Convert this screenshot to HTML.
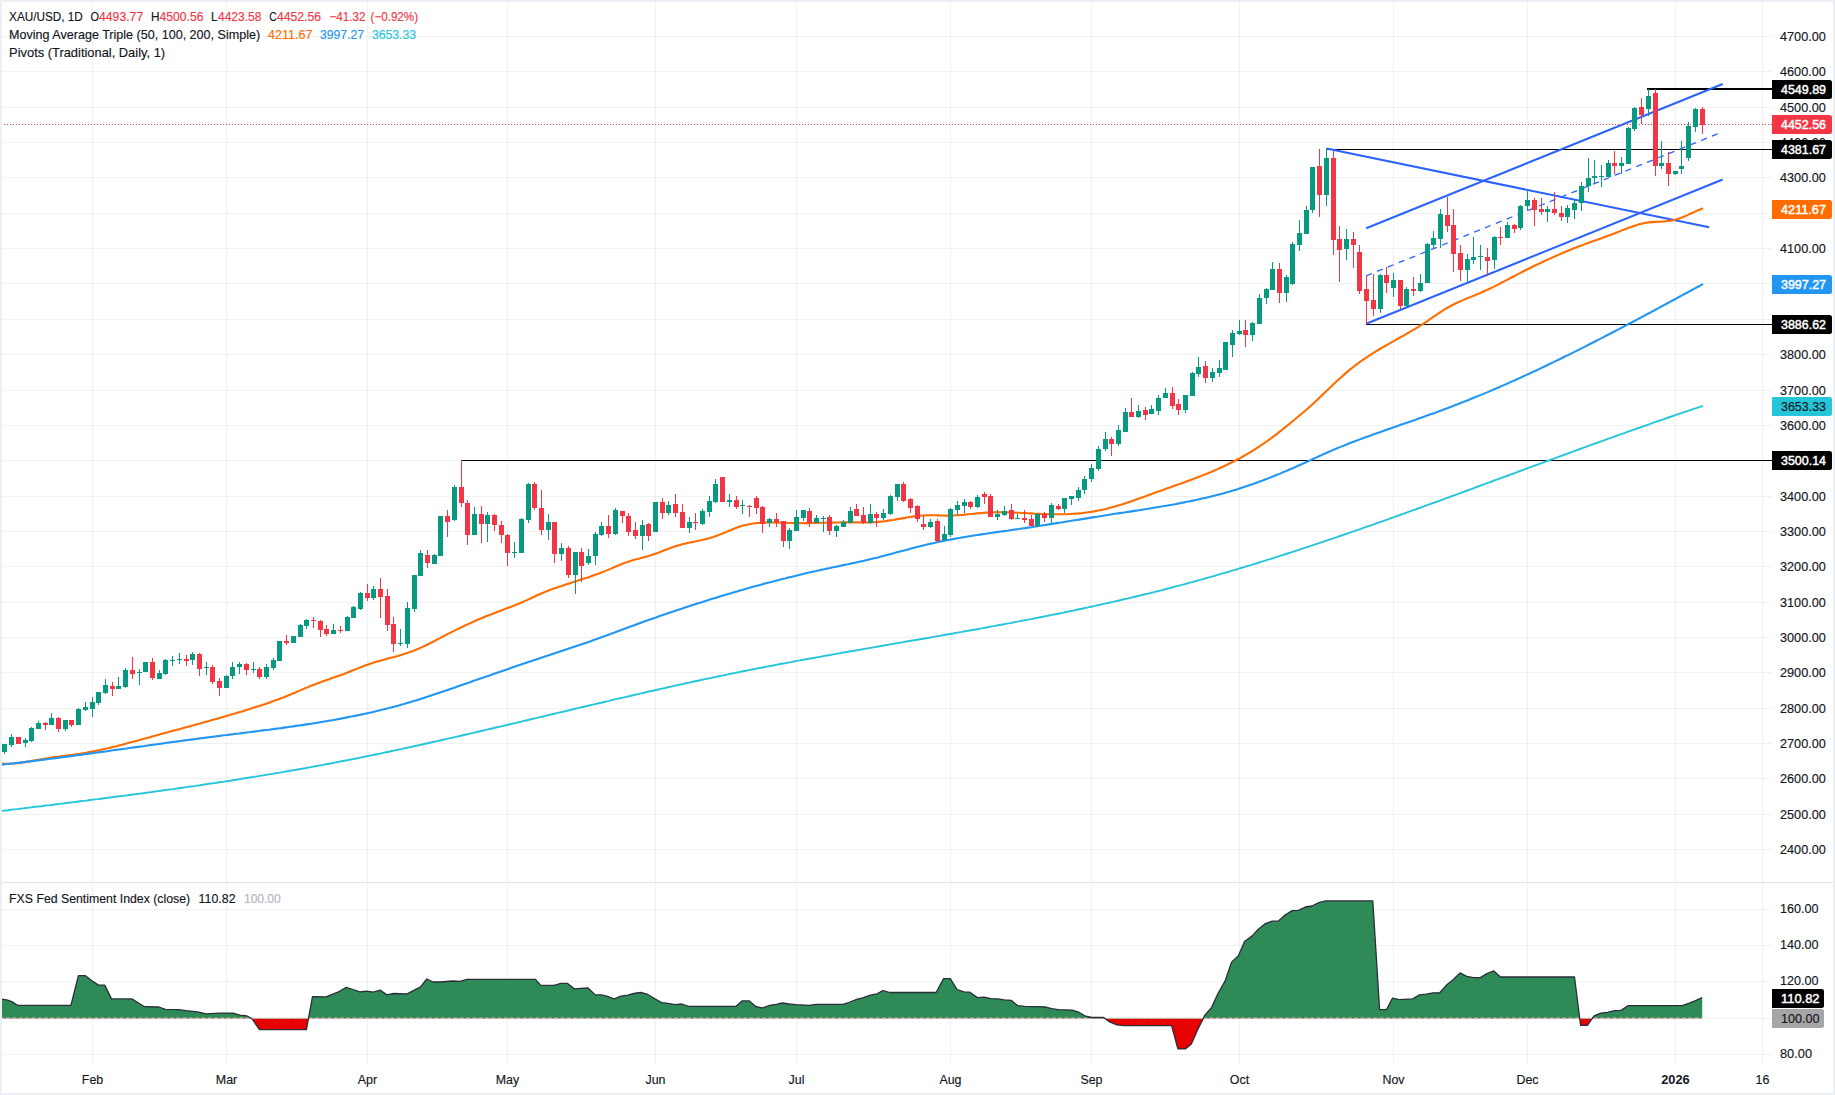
<!DOCTYPE html>
<html><head><meta charset="utf-8"><title>XAU/USD 1D</title>
<style>html,body{margin:0;padding:0;background:#fff}svg{display:block}</style></head>
<body>
<svg width="1835" height="1095" viewBox="0 0 1835 1095" font-family="&quot;Liberation Sans&quot;, sans-serif" font-size="12.4">
<rect x="0" y="0" width="1835" height="1095" fill="#ffffff"/>
<path d="M92.5 2V1064.5 M226.5 2V1064.5 M367.5 2V1064.5 M507.5 2V1064.5 M655.5 2V1064.5 M796.5 2V1064.5 M950.5 2V1064.5 M1091.5 2V1064.5 M1239.5 2V1064.5 M1393.5 2V1064.5 M1527.5 2V1064.5 M1675.5 2V1064.5 M1762.5 2V1064.5" stroke="#2b302e" stroke-opacity="0.065" stroke-width="1" fill="none" shape-rendering="crispEdges"/>
<path d="M2 849.5H1772 M2 814.5H1772 M2 778.5H1772 M2 743.5H1772 M2 708.5H1772 M2 672.5H1772 M2 637.5H1772 M2 602.5H1772 M2 566.5H1772 M2 531.5H1772 M2 496.5H1772 M2 460.5H1772 M2 425.5H1772 M2 390.5H1772 M2 354.5H1772 M2 319.5H1772 M2 283.5H1772 M2 248.5H1772 M2 213.5H1772 M2 177.5H1772 M2 142.5H1772 M2 107.5H1772 M2 71.5H1772 M2 36.5H1772 M2 1054.5H1772 M2 1018.5H1772 M2 981.5H1772 M2 945.5H1772 M2 909.5H1772" stroke="#2b302e" stroke-opacity="0.065" stroke-width="1" fill="none" shape-rendering="crispEdges"/>
<path d="M2 882.5H1833" stroke="#e0e3eb" stroke-width="1" shape-rendering="crispEdges"/>
<path d="M461.7 460.5H1772" stroke="#000" stroke-width="1" shape-rendering="crispEdges"/>
<path d="M1366.2 324.5H1772" stroke="#000" stroke-width="1" shape-rendering="crispEdges"/>
<path d="M1326.5 149.5H1772" stroke="#000" stroke-width="1" shape-rendering="crispEdges"/>
<path d="M1647.4 89.0H1772" stroke="#000" stroke-width="2" shape-rendering="crispEdges"/>
<path d="M1326.5 148.6L1709.2 227.3" stroke="#2962ff" stroke-width="2" fill="none"/>
<path d="M1366.2 228.2L1722.7 84.0" stroke="#2962ff" stroke-width="2" fill="none"/>
<path d="M1366.2 323.8L1722.7 179.5" stroke="#2962ff" stroke-width="2" fill="none"/>
<path d="M1366.2 275.8L1722.7 131.8" stroke="#2962ff" stroke-width="1.3" stroke-dasharray="6.2 5.45" fill="none"/>
<path d="M2.0 763.5 L5.0 763.7 L8.0 763.8 L11.0 763.7 L14.0 763.5 L17.0 763.2 L20.0 762.9 L23.0 762.4 L26.0 761.9 L29.0 761.4 L32.0 760.8 L35.0 760.3 L38.0 759.7 L41.0 759.2 L44.0 758.7 L47.0 758.2 L50.0 757.8 L53.0 757.4 L56.0 757.0 L59.0 756.6 L62.0 756.2 L65.0 755.8 L68.0 755.4 L71.0 755.0 L74.0 754.6 L77.0 754.1 L80.0 753.7 L83.0 753.2 L86.0 752.7 L89.0 752.1 L92.0 751.6 L95.0 751.0 L98.0 750.4 L101.0 749.7 L104.0 749.1 L107.0 748.4 L110.0 747.7 L113.0 746.9 L116.0 746.2 L119.0 745.4 L122.0 744.7 L125.0 743.9 L128.0 743.1 L131.0 742.3 L134.0 741.5 L137.0 740.7 L140.0 739.8 L143.0 739.0 L146.0 738.2 L149.0 737.4 L152.0 736.5 L155.0 735.7 L158.0 734.9 L161.0 734.1 L164.0 733.3 L167.0 732.5 L170.0 731.6 L173.0 730.8 L176.0 730.0 L179.0 729.2 L182.0 728.4 L185.0 727.6 L188.0 726.8 L191.0 725.9 L194.0 725.1 L197.0 724.3 L200.0 723.5 L203.0 722.6 L206.0 721.8 L209.0 721.0 L212.0 720.1 L215.0 719.3 L218.0 718.4 L221.0 717.6 L224.0 716.7 L227.0 715.8 L230.0 715.0 L233.0 714.1 L236.0 713.2 L239.0 712.3 L242.0 711.4 L245.0 710.4 L248.0 709.5 L251.0 708.6 L254.0 707.6 L257.0 706.6 L260.0 705.7 L263.0 704.7 L266.0 703.7 L269.0 702.7 L272.0 701.6 L275.0 700.6 L278.0 699.5 L281.0 698.3 L284.0 697.2 L287.0 696.0 L290.0 694.8 L293.0 693.5 L296.0 692.2 L299.0 690.9 L302.0 689.6 L305.0 688.3 L308.0 687.1 L311.0 685.8 L314.0 684.7 L317.0 683.5 L320.0 682.4 L323.0 681.3 L326.0 680.2 L329.0 679.2 L332.0 678.1 L335.0 677.1 L338.0 676.0 L341.0 675.0 L344.0 673.9 L347.0 672.7 L350.0 671.5 L353.0 670.3 L356.0 669.1 L359.0 667.9 L362.0 666.7 L365.0 665.5 L368.0 664.5 L371.0 663.4 L374.0 662.5 L377.0 661.6 L380.0 660.7 L383.0 659.9 L386.0 659.1 L389.0 658.3 L392.0 657.5 L395.0 656.7 L398.0 655.9 L401.0 655.0 L404.0 654.1 L407.0 653.1 L410.0 652.1 L413.0 651.0 L416.0 649.8 L419.0 648.5 L422.0 647.1 L425.0 645.7 L428.0 644.2 L431.0 642.7 L434.0 641.2 L437.0 639.6 L440.0 638.1 L443.0 636.5 L446.0 634.9 L449.0 633.4 L452.0 631.9 L455.0 630.4 L458.0 628.9 L461.0 627.5 L464.0 626.0 L467.0 624.6 L470.0 623.2 L473.0 621.9 L476.0 620.5 L479.0 619.2 L482.0 618.0 L485.0 616.7 L488.0 615.5 L491.0 614.4 L494.0 613.2 L497.0 612.0 L500.0 610.9 L503.0 609.8 L506.0 608.6 L509.0 607.5 L512.0 606.4 L515.0 605.2 L518.0 604.0 L521.0 602.7 L524.0 601.4 L527.0 600.1 L530.0 598.7 L533.0 597.2 L536.0 595.8 L539.0 594.5 L542.0 593.2 L545.0 591.9 L548.0 590.7 L551.0 589.6 L554.0 588.5 L557.0 587.4 L560.0 586.4 L563.0 585.4 L566.0 584.4 L569.0 583.4 L572.0 582.4 L575.0 581.5 L578.0 580.6 L581.0 579.6 L584.0 578.6 L587.0 577.7 L590.0 576.7 L593.0 575.6 L596.0 574.6 L599.0 573.5 L602.0 572.3 L605.0 571.1 L608.0 569.9 L611.0 568.6 L614.0 567.3 L617.0 566.0 L620.0 564.7 L623.0 563.5 L626.0 562.4 L629.0 561.4 L632.0 560.5 L635.0 559.6 L638.0 558.9 L641.0 558.1 L644.0 557.3 L647.0 556.5 L650.0 555.6 L653.0 554.6 L656.0 553.5 L659.0 552.4 L662.0 551.2 L665.0 550.0 L668.0 548.9 L671.0 547.8 L674.0 546.7 L677.0 545.8 L680.0 544.9 L683.0 544.1 L686.0 543.4 L689.0 542.8 L692.0 542.1 L695.0 541.5 L698.0 540.8 L701.0 540.2 L704.0 539.5 L707.0 538.7 L710.0 537.9 L713.0 537.0 L716.0 536.0 L719.0 534.9 L722.0 533.7 L725.0 532.5 L728.0 531.2 L731.0 530.0 L734.0 528.7 L737.0 527.6 L740.0 526.6 L743.0 525.6 L746.0 524.9 L749.0 524.2 L752.0 523.7 L755.0 523.3 L758.0 523.0 L761.0 522.8 L764.0 522.6 L767.0 522.5 L770.0 522.5 L773.0 522.5 L776.0 522.6 L779.0 522.7 L782.0 522.8 L785.0 522.9 L788.0 523.0 L791.0 523.0 L794.0 523.1 L797.0 523.1 L800.0 523.1 L803.0 523.1 L806.0 523.1 L809.0 523.1 L812.0 523.0 L815.0 523.0 L818.0 522.9 L821.0 522.8 L824.0 522.8 L827.0 522.7 L830.0 522.6 L833.0 522.6 L836.0 522.5 L839.0 522.5 L842.0 522.4 L845.0 522.4 L848.0 522.4 L851.0 522.4 L854.0 522.4 L857.0 522.4 L860.0 522.5 L863.0 522.5 L866.0 522.5 L869.0 522.4 L872.0 522.3 L875.0 522.1 L878.0 521.9 L881.0 521.6 L884.0 521.3 L887.0 520.9 L890.0 520.4 L893.0 520.0 L896.0 519.4 L899.0 518.9 L902.0 518.4 L905.0 517.9 L908.0 517.3 L911.0 516.9 L914.0 516.4 L917.0 516.1 L920.0 515.7 L923.0 515.5 L926.0 515.4 L929.0 515.3 L932.0 515.3 L935.0 515.3 L938.0 515.4 L941.0 515.5 L944.0 515.6 L947.0 515.6 L950.0 515.6 L953.0 515.5 L956.0 515.3 L959.0 515.1 L962.0 514.9 L965.0 514.6 L968.0 514.3 L971.0 514.0 L974.0 513.7 L977.0 513.4 L980.0 513.1 L983.0 512.9 L986.0 512.6 L989.0 512.5 L992.0 512.4 L995.0 512.3 L998.0 512.3 L1001.0 512.3 L1004.0 512.3 L1007.0 512.4 L1010.0 512.4 L1013.0 512.5 L1016.0 512.7 L1019.0 512.8 L1022.0 513.0 L1025.0 513.1 L1028.0 513.3 L1031.0 513.4 L1034.0 513.6 L1037.0 513.7 L1040.0 513.9 L1043.0 514.0 L1046.0 514.1 L1049.0 514.2 L1052.0 514.3 L1055.0 514.3 L1058.0 514.3 L1061.0 514.3 L1064.0 514.3 L1067.0 514.2 L1070.0 514.0 L1073.0 513.8 L1076.0 513.6 L1079.0 513.4 L1082.0 513.1 L1085.0 512.7 L1088.0 512.3 L1091.0 511.9 L1094.0 511.4 L1097.0 510.8 L1100.0 510.2 L1103.0 509.6 L1106.0 508.9 L1109.0 508.1 L1112.0 507.3 L1115.0 506.5 L1118.0 505.6 L1121.0 504.7 L1124.0 503.7 L1127.0 502.7 L1130.0 501.7 L1133.0 500.7 L1136.0 499.6 L1139.0 498.6 L1142.0 497.5 L1145.0 496.4 L1148.0 495.3 L1151.0 494.2 L1154.0 493.1 L1157.0 492.0 L1160.0 491.0 L1163.0 489.9 L1166.0 488.8 L1169.0 487.8 L1172.0 486.7 L1175.0 485.6 L1178.0 484.6 L1181.0 483.5 L1184.0 482.4 L1187.0 481.3 L1190.0 480.2 L1193.0 479.1 L1196.0 477.9 L1199.0 476.8 L1202.0 475.6 L1205.0 474.4 L1208.0 473.2 L1211.0 472.0 L1214.0 470.7 L1217.0 469.4 L1220.0 468.0 L1223.0 466.7 L1226.0 465.2 L1229.0 463.8 L1232.0 462.3 L1235.0 460.8 L1238.0 459.2 L1241.0 457.6 L1244.0 455.9 L1247.0 454.2 L1250.0 452.4 L1253.0 450.6 L1256.0 448.7 L1259.0 446.7 L1262.0 444.7 L1265.0 442.7 L1268.0 440.5 L1271.0 438.3 L1274.0 436.1 L1277.0 433.8 L1280.0 431.4 L1283.0 429.0 L1286.0 426.6 L1289.0 424.2 L1292.0 421.7 L1295.0 419.3 L1298.0 416.8 L1301.0 414.3 L1304.0 411.8 L1307.0 409.2 L1310.0 406.5 L1313.0 403.8 L1316.0 401.0 L1319.0 398.2 L1322.0 395.3 L1325.0 392.5 L1328.0 389.6 L1331.0 386.7 L1334.0 383.8 L1337.0 381.0 L1340.0 378.2 L1343.0 375.6 L1346.0 372.9 L1349.0 370.4 L1352.0 368.0 L1355.0 365.7 L1358.0 363.4 L1361.0 361.2 L1364.0 359.1 L1367.0 357.1 L1370.0 355.1 L1373.0 353.2 L1376.0 351.3 L1379.0 349.5 L1382.0 347.7 L1385.0 346.0 L1388.0 344.3 L1391.0 342.6 L1394.0 340.9 L1397.0 339.2 L1400.0 337.5 L1403.0 335.9 L1406.0 334.2 L1409.0 332.4 L1412.0 330.7 L1415.0 328.9 L1418.0 327.1 L1421.0 325.2 L1424.0 323.3 L1427.0 321.3 L1430.0 319.2 L1433.0 317.2 L1436.0 315.1 L1439.0 313.0 L1442.0 311.1 L1445.0 309.2 L1448.0 307.5 L1451.0 305.8 L1454.0 304.3 L1457.0 302.8 L1460.0 301.4 L1463.0 300.1 L1466.0 298.8 L1469.0 297.6 L1472.0 296.4 L1475.0 295.2 L1478.0 293.9 L1481.0 292.7 L1484.0 291.3 L1487.0 290.0 L1490.0 288.5 L1493.0 287.1 L1496.0 285.6 L1499.0 284.1 L1502.0 282.5 L1505.0 280.9 L1508.0 279.4 L1511.0 277.8 L1514.0 276.2 L1517.0 274.6 L1520.0 273.1 L1523.0 271.5 L1526.0 270.0 L1529.0 268.5 L1532.0 267.0 L1535.0 265.5 L1538.0 264.1 L1541.0 262.7 L1544.0 261.3 L1547.0 259.9 L1550.0 258.6 L1553.0 257.2 L1556.0 255.9 L1559.0 254.6 L1562.0 253.3 L1565.0 252.0 L1568.0 250.8 L1571.0 249.5 L1574.0 248.3 L1577.0 247.1 L1580.0 246.0 L1583.0 244.9 L1586.0 243.7 L1589.0 242.7 L1592.0 241.6 L1595.0 240.5 L1598.0 239.5 L1601.0 238.4 L1604.0 237.3 L1607.0 236.2 L1610.0 235.1 L1613.0 234.0 L1616.0 232.8 L1619.0 231.6 L1622.0 230.4 L1625.0 229.2 L1628.0 228.1 L1631.0 227.0 L1634.0 225.9 L1637.0 225.0 L1640.0 224.1 L1643.0 223.4 L1646.0 222.8 L1649.0 222.4 L1652.0 222.1 L1655.0 221.9 L1658.0 221.7 L1661.0 221.6 L1664.0 221.4 L1667.0 221.1 L1670.0 220.7 L1673.0 220.1 L1676.0 219.4 L1679.0 218.5 L1682.0 217.4 L1685.0 216.2 L1688.0 214.9 L1691.0 213.5 L1694.0 212.1 L1697.0 210.7 L1700.0 209.5 L1702.3 208.6" stroke="#ff6d00" stroke-width="2.1" fill="none" stroke-linejoin="round" stroke-linecap="round"/>
<path d="M2.0 764.7 L5.0 764.3 L8.0 764.0 L11.0 763.6 L14.0 763.3 L17.0 762.9 L20.0 762.6 L23.0 762.2 L26.0 761.9 L29.0 761.5 L32.0 761.1 L35.0 760.7 L38.0 760.4 L41.0 760.0 L44.0 759.6 L47.0 759.2 L50.0 758.8 L53.0 758.5 L56.0 758.1 L59.0 757.7 L62.0 757.3 L65.0 756.9 L68.0 756.5 L71.0 756.1 L74.0 755.7 L77.0 755.3 L80.0 754.9 L83.0 754.5 L86.0 754.1 L89.0 753.6 L92.0 753.2 L95.0 752.8 L98.0 752.4 L101.0 752.0 L104.0 751.6 L107.0 751.2 L110.0 750.7 L113.0 750.3 L116.0 749.9 L119.0 749.5 L122.0 749.1 L125.0 748.7 L128.0 748.2 L131.0 747.8 L134.0 747.4 L137.0 747.0 L140.0 746.6 L143.0 746.2 L146.0 745.7 L149.0 745.3 L152.0 744.9 L155.0 744.5 L158.0 744.1 L161.0 743.7 L164.0 743.3 L167.0 742.8 L170.0 742.4 L173.0 742.0 L176.0 741.6 L179.0 741.2 L182.0 740.8 L185.0 740.4 L188.0 740.0 L191.0 739.6 L194.0 739.2 L197.0 738.8 L200.0 738.4 L203.0 738.0 L206.0 737.6 L209.0 737.2 L212.0 736.9 L215.0 736.5 L218.0 736.1 L221.0 735.7 L224.0 735.3 L227.0 735.0 L230.0 734.6 L233.0 734.2 L236.0 733.8 L239.0 733.5 L242.0 733.1 L245.0 732.7 L248.0 732.3 L251.0 732.0 L254.0 731.6 L257.0 731.2 L260.0 730.8 L263.0 730.4 L266.0 730.0 L269.0 729.7 L272.0 729.3 L275.0 728.9 L278.0 728.5 L281.0 728.1 L284.0 727.6 L287.0 727.2 L290.0 726.8 L293.0 726.4 L296.0 725.9 L299.0 725.5 L302.0 725.1 L305.0 724.6 L308.0 724.1 L311.0 723.7 L314.0 723.2 L317.0 722.7 L320.0 722.2 L323.0 721.7 L326.0 721.2 L329.0 720.7 L332.0 720.2 L335.0 719.7 L338.0 719.1 L341.0 718.6 L344.0 718.0 L347.0 717.4 L350.0 716.8 L353.0 716.2 L356.0 715.6 L359.0 715.0 L362.0 714.4 L365.0 713.7 L368.0 713.1 L371.0 712.4 L374.0 711.7 L377.0 711.0 L380.0 710.3 L383.0 709.6 L386.0 708.8 L389.0 708.1 L392.0 707.3 L395.0 706.5 L398.0 705.7 L401.0 704.8 L404.0 704.0 L407.0 703.1 L410.0 702.2 L413.0 701.3 L416.0 700.4 L419.0 699.5 L422.0 698.5 L425.0 697.5 L428.0 696.6 L431.0 695.6 L434.0 694.6 L437.0 693.6 L440.0 692.5 L443.0 691.5 L446.0 690.5 L449.0 689.4 L452.0 688.4 L455.0 687.4 L458.0 686.3 L461.0 685.3 L464.0 684.3 L467.0 683.2 L470.0 682.2 L473.0 681.1 L476.0 680.1 L479.0 679.0 L482.0 678.0 L485.0 677.0 L488.0 675.9 L491.0 674.9 L494.0 673.8 L497.0 672.8 L500.0 671.8 L503.0 670.7 L506.0 669.7 L509.0 668.7 L512.0 667.6 L515.0 666.6 L518.0 665.6 L521.0 664.6 L524.0 663.5 L527.0 662.5 L530.0 661.5 L533.0 660.5 L536.0 659.5 L539.0 658.4 L542.0 657.4 L545.0 656.4 L548.0 655.4 L551.0 654.4 L554.0 653.4 L557.0 652.4 L560.0 651.4 L563.0 650.4 L566.0 649.5 L569.0 648.5 L572.0 647.5 L575.0 646.5 L578.0 645.5 L581.0 644.5 L584.0 643.4 L587.0 642.4 L590.0 641.4 L593.0 640.3 L596.0 639.3 L599.0 638.2 L602.0 637.1 L605.0 636.0 L608.0 634.9 L611.0 633.8 L614.0 632.7 L617.0 631.5 L620.0 630.4 L623.0 629.3 L626.0 628.2 L629.0 627.1 L632.0 626.0 L635.0 624.9 L638.0 623.8 L641.0 622.7 L644.0 621.6 L647.0 620.6 L650.0 619.5 L653.0 618.4 L656.0 617.4 L659.0 616.3 L662.0 615.3 L665.0 614.3 L668.0 613.2 L671.0 612.2 L674.0 611.2 L677.0 610.2 L680.0 609.2 L683.0 608.2 L686.0 607.2 L689.0 606.2 L692.0 605.2 L695.0 604.3 L698.0 603.3 L701.0 602.4 L704.0 601.4 L707.0 600.5 L710.0 599.5 L713.0 598.6 L716.0 597.7 L719.0 596.7 L722.0 595.8 L725.0 594.9 L728.0 594.0 L731.0 593.2 L734.0 592.3 L737.0 591.4 L740.0 590.5 L743.0 589.7 L746.0 588.8 L749.0 588.0 L752.0 587.1 L755.0 586.3 L758.0 585.5 L761.0 584.7 L764.0 583.8 L767.0 583.0 L770.0 582.3 L773.0 581.5 L776.0 580.7 L779.0 579.9 L782.0 579.1 L785.0 578.4 L788.0 577.6 L791.0 576.9 L794.0 576.2 L797.0 575.4 L800.0 574.7 L803.0 574.0 L806.0 573.3 L809.0 572.6 L812.0 571.9 L815.0 571.3 L818.0 570.6 L821.0 569.9 L824.0 569.3 L827.0 568.6 L830.0 568.0 L833.0 567.3 L836.0 566.7 L839.0 566.1 L842.0 565.4 L845.0 564.8 L848.0 564.2 L851.0 563.5 L854.0 562.9 L857.0 562.2 L860.0 561.6 L863.0 560.9 L866.0 560.2 L869.0 559.5 L872.0 558.8 L875.0 558.1 L878.0 557.4 L881.0 556.6 L884.0 555.8 L887.0 555.0 L890.0 554.2 L893.0 553.4 L896.0 552.6 L899.0 551.8 L902.0 551.0 L905.0 550.2 L908.0 549.4 L911.0 548.6 L914.0 547.8 L917.0 547.0 L920.0 546.2 L923.0 545.5 L926.0 544.8 L929.0 544.0 L932.0 543.4 L935.0 542.7 L938.0 542.0 L941.0 541.4 L944.0 540.8 L947.0 540.2 L950.0 539.6 L953.0 539.1 L956.0 538.5 L959.0 538.0 L962.0 537.5 L965.0 537.0 L968.0 536.5 L971.0 536.0 L974.0 535.5 L977.0 535.0 L980.0 534.6 L983.0 534.1 L986.0 533.7 L989.0 533.2 L992.0 532.8 L995.0 532.4 L998.0 531.9 L1001.0 531.5 L1004.0 531.1 L1007.0 530.7 L1010.0 530.2 L1013.0 529.8 L1016.0 529.4 L1019.0 529.0 L1022.0 528.5 L1025.0 528.1 L1028.0 527.6 L1031.0 527.2 L1034.0 526.7 L1037.0 526.3 L1040.0 525.8 L1043.0 525.3 L1046.0 524.9 L1049.0 524.4 L1052.0 523.9 L1055.0 523.4 L1058.0 522.9 L1061.0 522.5 L1064.0 522.0 L1067.0 521.5 L1070.0 521.0 L1073.0 520.5 L1076.0 520.0 L1079.0 519.6 L1082.0 519.1 L1085.0 518.6 L1088.0 518.1 L1091.0 517.6 L1094.0 517.1 L1097.0 516.7 L1100.0 516.2 L1103.0 515.7 L1106.0 515.2 L1109.0 514.8 L1112.0 514.3 L1115.0 513.8 L1118.0 513.4 L1121.0 512.9 L1124.0 512.5 L1127.0 512.0 L1130.0 511.6 L1133.0 511.1 L1136.0 510.6 L1139.0 510.2 L1142.0 509.7 L1145.0 509.2 L1148.0 508.8 L1151.0 508.3 L1154.0 507.8 L1157.0 507.3 L1160.0 506.8 L1163.0 506.3 L1166.0 505.8 L1169.0 505.2 L1172.0 504.7 L1175.0 504.2 L1178.0 503.6 L1181.0 503.0 L1184.0 502.4 L1187.0 501.8 L1190.0 501.2 L1193.0 500.6 L1196.0 500.0 L1199.0 499.3 L1202.0 498.6 L1205.0 497.9 L1208.0 497.2 L1211.0 496.5 L1214.0 495.8 L1217.0 495.0 L1220.0 494.2 L1223.0 493.4 L1226.0 492.5 L1229.0 491.7 L1232.0 490.8 L1235.0 489.9 L1238.0 489.0 L1241.0 488.0 L1244.0 487.0 L1247.0 486.0 L1250.0 485.0 L1253.0 484.0 L1256.0 482.9 L1259.0 481.8 L1262.0 480.7 L1265.0 479.5 L1268.0 478.4 L1271.0 477.2 L1274.0 476.0 L1277.0 474.8 L1280.0 473.6 L1283.0 472.3 L1286.0 471.1 L1289.0 469.8 L1292.0 468.5 L1295.0 467.2 L1298.0 465.8 L1301.0 464.5 L1304.0 463.1 L1307.0 461.7 L1310.0 460.4 L1313.0 459.0 L1316.0 457.6 L1319.0 456.2 L1322.0 454.9 L1325.0 453.5 L1328.0 452.2 L1331.0 450.9 L1334.0 449.6 L1337.0 448.3 L1340.0 447.1 L1343.0 445.9 L1346.0 444.7 L1349.0 443.5 L1352.0 442.3 L1355.0 441.2 L1358.0 440.1 L1361.0 438.9 L1364.0 437.8 L1367.0 436.7 L1370.0 435.7 L1373.0 434.6 L1376.0 433.5 L1379.0 432.5 L1382.0 431.4 L1385.0 430.3 L1388.0 429.3 L1391.0 428.3 L1394.0 427.2 L1397.0 426.2 L1400.0 425.1 L1403.0 424.1 L1406.0 423.1 L1409.0 422.0 L1412.0 421.0 L1415.0 419.9 L1418.0 418.8 L1421.0 417.8 L1424.0 416.7 L1427.0 415.6 L1430.0 414.5 L1433.0 413.5 L1436.0 412.4 L1439.0 411.3 L1442.0 410.2 L1445.0 409.0 L1448.0 407.9 L1451.0 406.8 L1454.0 405.6 L1457.0 404.5 L1460.0 403.3 L1463.0 402.1 L1466.0 401.0 L1469.0 399.8 L1472.0 398.5 L1475.0 397.3 L1478.0 396.1 L1481.0 394.9 L1484.0 393.6 L1487.0 392.4 L1490.0 391.1 L1493.0 389.8 L1496.0 388.5 L1499.0 387.2 L1502.0 385.9 L1505.0 384.6 L1508.0 383.3 L1511.0 381.9 L1514.0 380.6 L1517.0 379.2 L1520.0 377.9 L1523.0 376.5 L1526.0 375.1 L1529.0 373.8 L1532.0 372.4 L1535.0 371.0 L1538.0 369.6 L1541.0 368.1 L1544.0 366.7 L1547.0 365.3 L1550.0 363.8 L1553.0 362.4 L1556.0 360.9 L1559.0 359.5 L1562.0 358.0 L1565.0 356.5 L1568.0 355.1 L1571.0 353.6 L1574.0 352.1 L1577.0 350.6 L1580.0 349.1 L1583.0 347.6 L1586.0 346.1 L1589.0 344.5 L1592.0 343.0 L1595.0 341.5 L1598.0 339.9 L1601.0 338.4 L1604.0 336.9 L1607.0 335.3 L1610.0 333.8 L1613.0 332.2 L1616.0 330.6 L1619.0 329.1 L1622.0 327.5 L1625.0 325.9 L1628.0 324.3 L1631.0 322.8 L1634.0 321.2 L1637.0 319.6 L1640.0 318.0 L1643.0 316.4 L1646.0 314.8 L1649.0 313.2 L1652.0 311.6 L1655.0 310.0 L1658.0 308.4 L1661.0 306.7 L1664.0 305.1 L1667.0 303.5 L1670.0 301.9 L1673.0 300.3 L1676.0 298.7 L1679.0 297.0 L1682.0 295.4 L1685.0 293.8 L1688.0 292.2 L1691.0 290.5 L1694.0 288.9 L1697.0 287.3 L1700.0 285.7 L1702.3 284.4" stroke="#2196f3" stroke-width="2.1" fill="none" stroke-linejoin="round" stroke-linecap="round"/>
<path d="M2.0 810.9 L5.0 810.5 L8.0 810.2 L11.0 809.8 L14.0 809.4 L17.0 809.1 L20.0 808.7 L23.0 808.4 L26.0 808.0 L29.0 807.6 L32.0 807.3 L35.0 806.9 L38.0 806.5 L41.0 806.2 L44.0 805.8 L47.0 805.4 L50.0 805.1 L53.0 804.7 L56.0 804.3 L59.0 803.9 L62.0 803.6 L65.0 803.2 L68.0 802.8 L71.0 802.5 L74.0 802.1 L77.0 801.7 L80.0 801.3 L83.0 800.9 L86.0 800.6 L89.0 800.2 L92.0 799.8 L95.0 799.4 L98.0 799.1 L101.0 798.7 L104.0 798.3 L107.0 797.9 L110.0 797.5 L113.0 797.1 L116.0 796.7 L119.0 796.3 L122.0 796.0 L125.0 795.6 L128.0 795.2 L131.0 794.8 L134.0 794.4 L137.0 794.0 L140.0 793.6 L143.0 793.2 L146.0 792.8 L149.0 792.4 L152.0 792.0 L155.0 791.5 L158.0 791.1 L161.0 790.7 L164.0 790.3 L167.0 789.9 L170.0 789.5 L173.0 789.1 L176.0 788.6 L179.0 788.2 L182.0 787.8 L185.0 787.4 L188.0 786.9 L191.0 786.5 L194.0 786.1 L197.0 785.6 L200.0 785.2 L203.0 784.7 L206.0 784.3 L209.0 783.8 L212.0 783.4 L215.0 783.0 L218.0 782.5 L221.0 782.0 L224.0 781.6 L227.0 781.1 L230.0 780.7 L233.0 780.2 L236.0 779.7 L239.0 779.3 L242.0 778.8 L245.0 778.3 L248.0 777.8 L251.0 777.3 L254.0 776.9 L257.0 776.4 L260.0 775.9 L263.0 775.4 L266.0 774.9 L269.0 774.4 L272.0 773.9 L275.0 773.4 L278.0 772.9 L281.0 772.4 L284.0 771.9 L287.0 771.3 L290.0 770.8 L293.0 770.3 L296.0 769.8 L299.0 769.2 L302.0 768.7 L305.0 768.2 L308.0 767.6 L311.0 767.1 L314.0 766.5 L317.0 766.0 L320.0 765.4 L323.0 764.9 L326.0 764.3 L329.0 763.7 L332.0 763.2 L335.0 762.6 L338.0 762.0 L341.0 761.4 L344.0 760.8 L347.0 760.3 L350.0 759.7 L353.0 759.1 L356.0 758.5 L359.0 757.9 L362.0 757.3 L365.0 756.6 L368.0 756.0 L371.0 755.4 L374.0 754.8 L377.0 754.2 L380.0 753.6 L383.0 752.9 L386.0 752.3 L389.0 751.7 L392.0 751.0 L395.0 750.4 L398.0 749.7 L401.0 749.1 L404.0 748.4 L407.0 747.8 L410.0 747.1 L413.0 746.5 L416.0 745.8 L419.0 745.2 L422.0 744.5 L425.0 743.8 L428.0 743.2 L431.0 742.5 L434.0 741.8 L437.0 741.2 L440.0 740.5 L443.0 739.8 L446.0 739.1 L449.0 738.4 L452.0 737.8 L455.0 737.1 L458.0 736.4 L461.0 735.7 L464.0 735.0 L467.0 734.3 L470.0 733.6 L473.0 732.9 L476.0 732.2 L479.0 731.5 L482.0 730.8 L485.0 730.1 L488.0 729.4 L491.0 728.7 L494.0 728.0 L497.0 727.3 L500.0 726.6 L503.0 725.9 L506.0 725.2 L509.0 724.5 L512.0 723.8 L515.0 723.1 L518.0 722.4 L521.0 721.7 L524.0 720.9 L527.0 720.2 L530.0 719.5 L533.0 718.8 L536.0 718.1 L539.0 717.4 L542.0 716.7 L545.0 716.0 L548.0 715.2 L551.0 714.5 L554.0 713.8 L557.0 713.1 L560.0 712.4 L563.0 711.7 L566.0 711.0 L569.0 710.3 L572.0 709.5 L575.0 708.8 L578.0 708.1 L581.0 707.4 L584.0 706.7 L587.0 706.0 L590.0 705.3 L593.0 704.6 L596.0 703.9 L599.0 703.2 L602.0 702.5 L605.0 701.8 L608.0 701.1 L611.0 700.3 L614.0 699.6 L617.0 698.9 L620.0 698.3 L623.0 697.6 L626.0 696.9 L629.0 696.2 L632.0 695.5 L635.0 694.8 L638.0 694.1 L641.0 693.4 L644.0 692.7 L647.0 692.0 L650.0 691.3 L653.0 690.7 L656.0 690.0 L659.0 689.3 L662.0 688.6 L665.0 688.0 L668.0 687.3 L671.0 686.6 L674.0 685.9 L677.0 685.3 L680.0 684.6 L683.0 684.0 L686.0 683.3 L689.0 682.6 L692.0 682.0 L695.0 681.3 L698.0 680.7 L701.0 680.0 L704.0 679.4 L707.0 678.8 L710.0 678.1 L713.0 677.5 L716.0 676.9 L719.0 676.2 L722.0 675.6 L725.0 675.0 L728.0 674.4 L731.0 673.7 L734.0 673.1 L737.0 672.5 L740.0 671.9 L743.0 671.3 L746.0 670.7 L749.0 670.1 L752.0 669.5 L755.0 668.9 L758.0 668.3 L761.0 667.8 L764.0 667.2 L767.0 666.6 L770.0 666.0 L773.0 665.5 L776.0 664.9 L779.0 664.3 L782.0 663.7 L785.0 663.2 L788.0 662.6 L791.0 662.1 L794.0 661.5 L797.0 660.9 L800.0 660.4 L803.0 659.8 L806.0 659.3 L809.0 658.7 L812.0 658.2 L815.0 657.7 L818.0 657.1 L821.0 656.6 L824.0 656.0 L827.0 655.5 L830.0 655.0 L833.0 654.4 L836.0 653.9 L839.0 653.4 L842.0 652.8 L845.0 652.3 L848.0 651.8 L851.0 651.2 L854.0 650.7 L857.0 650.2 L860.0 649.7 L863.0 649.1 L866.0 648.6 L869.0 648.1 L872.0 647.6 L875.0 647.1 L878.0 646.5 L881.0 646.0 L884.0 645.5 L887.0 645.0 L890.0 644.4 L893.0 643.9 L896.0 643.4 L899.0 642.9 L902.0 642.4 L905.0 641.8 L908.0 641.3 L911.0 640.8 L914.0 640.3 L917.0 639.8 L920.0 639.2 L923.0 638.7 L926.0 638.2 L929.0 637.7 L932.0 637.1 L935.0 636.6 L938.0 636.1 L941.0 635.6 L944.0 635.0 L947.0 634.5 L950.0 634.0 L953.0 633.5 L956.0 632.9 L959.0 632.4 L962.0 631.9 L965.0 631.3 L968.0 630.8 L971.0 630.2 L974.0 629.7 L977.0 629.2 L980.0 628.6 L983.0 628.1 L986.0 627.5 L989.0 627.0 L992.0 626.4 L995.0 625.9 L998.0 625.3 L1001.0 624.8 L1004.0 624.2 L1007.0 623.6 L1010.0 623.1 L1013.0 622.5 L1016.0 621.9 L1019.0 621.4 L1022.0 620.8 L1025.0 620.2 L1028.0 619.6 L1031.0 619.1 L1034.0 618.5 L1037.0 617.9 L1040.0 617.3 L1043.0 616.7 L1046.0 616.1 L1049.0 615.5 L1052.0 614.9 L1055.0 614.3 L1058.0 613.7 L1061.0 613.1 L1064.0 612.5 L1067.0 611.8 L1070.0 611.2 L1073.0 610.6 L1076.0 610.0 L1079.0 609.3 L1082.0 608.7 L1085.0 608.0 L1088.0 607.4 L1091.0 606.7 L1094.0 606.1 L1097.0 605.4 L1100.0 604.8 L1103.0 604.1 L1106.0 603.4 L1109.0 602.8 L1112.0 602.1 L1115.0 601.4 L1118.0 600.7 L1121.0 600.0 L1124.0 599.3 L1127.0 598.6 L1130.0 597.9 L1133.0 597.2 L1136.0 596.5 L1139.0 595.8 L1142.0 595.0 L1145.0 594.3 L1148.0 593.6 L1151.0 592.8 L1154.0 592.1 L1157.0 591.3 L1160.0 590.6 L1163.0 589.8 L1166.0 589.0 L1169.0 588.3 L1172.0 587.5 L1175.0 586.7 L1178.0 585.9 L1181.0 585.1 L1184.0 584.3 L1187.0 583.5 L1190.0 582.7 L1193.0 581.9 L1196.0 581.0 L1199.0 580.2 L1202.0 579.4 L1205.0 578.5 L1208.0 577.7 L1211.0 576.8 L1214.0 576.0 L1217.0 575.1 L1220.0 574.2 L1223.0 573.4 L1226.0 572.5 L1229.0 571.6 L1232.0 570.7 L1235.0 569.8 L1238.0 568.9 L1241.0 568.0 L1244.0 567.1 L1247.0 566.2 L1250.0 565.3 L1253.0 564.4 L1256.0 563.5 L1259.0 562.5 L1262.0 561.6 L1265.0 560.7 L1268.0 559.7 L1271.0 558.8 L1274.0 557.8 L1277.0 556.9 L1280.0 555.9 L1283.0 555.0 L1286.0 554.0 L1289.0 553.0 L1292.0 552.1 L1295.0 551.1 L1298.0 550.1 L1301.0 549.1 L1304.0 548.1 L1307.0 547.1 L1310.0 546.1 L1313.0 545.1 L1316.0 544.1 L1319.0 543.1 L1322.0 542.1 L1325.0 541.1 L1328.0 540.1 L1331.0 539.1 L1334.0 538.1 L1337.0 537.1 L1340.0 536.0 L1343.0 535.0 L1346.0 534.0 L1349.0 532.9 L1352.0 531.9 L1355.0 530.9 L1358.0 529.8 L1361.0 528.8 L1364.0 527.7 L1367.0 526.7 L1370.0 525.6 L1373.0 524.6 L1376.0 523.5 L1379.0 522.4 L1382.0 521.4 L1385.0 520.3 L1388.0 519.3 L1391.0 518.2 L1394.0 517.1 L1397.0 516.0 L1400.0 515.0 L1403.0 513.9 L1406.0 512.8 L1409.0 511.7 L1412.0 510.7 L1415.0 509.6 L1418.0 508.5 L1421.0 507.4 L1424.0 506.3 L1427.0 505.2 L1430.0 504.1 L1433.0 503.0 L1436.0 502.0 L1439.0 500.9 L1442.0 499.8 L1445.0 498.7 L1448.0 497.6 L1451.0 496.5 L1454.0 495.4 L1457.0 494.3 L1460.0 493.2 L1463.0 492.1 L1466.0 491.0 L1469.0 489.9 L1472.0 488.8 L1475.0 487.7 L1478.0 486.5 L1481.0 485.4 L1484.0 484.3 L1487.0 483.2 L1490.0 482.1 L1493.0 481.0 L1496.0 479.9 L1499.0 478.8 L1502.0 477.7 L1505.0 476.6 L1508.0 475.5 L1511.0 474.4 L1514.0 473.3 L1517.0 472.1 L1520.0 471.0 L1523.0 469.9 L1526.0 468.8 L1529.0 467.7 L1532.0 466.6 L1535.0 465.5 L1538.0 464.4 L1541.0 463.3 L1544.0 462.2 L1547.0 461.1 L1550.0 460.0 L1553.0 458.9 L1556.0 457.8 L1559.0 456.7 L1562.0 455.6 L1565.0 454.5 L1568.0 453.4 L1571.0 452.3 L1574.0 451.2 L1577.0 450.1 L1580.0 449.0 L1583.0 447.9 L1586.0 446.8 L1589.0 445.7 L1592.0 444.6 L1595.0 443.5 L1598.0 442.5 L1601.0 441.4 L1604.0 440.3 L1607.0 439.2 L1610.0 438.1 L1613.0 437.1 L1616.0 436.0 L1619.0 434.9 L1622.0 433.8 L1625.0 432.8 L1628.0 431.7 L1631.0 430.6 L1634.0 429.6 L1637.0 428.5 L1640.0 427.5 L1643.0 426.4 L1646.0 425.3 L1649.0 424.3 L1652.0 423.2 L1655.0 422.2 L1658.0 421.1 L1661.0 420.1 L1664.0 419.1 L1667.0 418.0 L1670.0 417.0 L1673.0 416.0 L1676.0 414.9 L1679.0 413.9 L1682.0 412.9 L1685.0 411.9 L1688.0 410.9 L1691.0 409.8 L1694.0 408.8 L1697.0 407.8 L1700.0 406.8 L1702.3 406.1" stroke="#26c6da" stroke-width="1.9" fill="none" stroke-linejoin="round" stroke-linecap="round"/>
<path d="M1 124.5H1772" stroke="#f23645" stroke-width="1" stroke-dasharray="1 2" shape-rendering="crispEdges"/>
<path d="M4 744h1V754h-1Z M2 744h5V752h-5Z M11 734h1V747h-1Z M9 737h5V745h-5Z M25 738h1V747h-1Z M23 740h5V743h-5Z M31 727h1V742h-1Z M29 728h5V741h-5Z M38 721h1V729h-1Z M36 723h5V729h-5Z M51 713h1V725h-1Z M49 718h5V725h-5Z M65 720h1V731h-1Z M63 720h5V729h-5Z M78 708h1V725h-1Z M76 709h5V725h-5Z M85 702h1V711h-1Z M83 707h5V710h-5Z M92 697h1V717h-1Z M90 702h5V709h-5Z M98 692h1V705h-1Z M96 692h5V703h-5Z M105 679h1V694h-1Z M103 685h5V693h-5Z M118 677h1V689h-1Z M116 686h5V689h-5Z M125 668h1V688h-1Z M123 670h5V687h-5Z M139 669h1V685h-1Z M137 672h5V673h-5Z M145 662h1V672h-1Z M143 662h5V672h-5Z M159 670h1V679h-1Z M157 673h5V679h-5Z M165 659h1V675h-1Z M163 660h5V674h-5Z M172 656h1V666h-1Z M170 660h5V661h-5Z M179 653h1V664h-1Z M177 659h5V660h-5Z M192 652h1V665h-1Z M190 654h5V660h-5Z M206 662h1V675h-1Z M204 667h5V668h-5Z M226 675h1V688h-1Z M224 676h5V688h-5Z M232 662h1V679h-1Z M230 667h5V676h-5Z M239 662h1V674h-1Z M237 664h5V667h-5Z M253 662h1V673h-1Z M251 669h5V670h-5Z M266 664h1V679h-1Z M264 667h5V677h-5Z M273 658h1V670h-1Z M271 660h5V668h-5Z M279 641h1V661h-1Z M277 641h5V661h-5Z M293 636h1V643h-1Z M291 636h5V643h-5Z M300 624h1V637h-1Z M298 625h5V637h-5Z M306 619h1V629h-1Z M304 620h5V626h-5Z M333 624h1V634h-1Z M331 630h5V634h-5Z M347 616h1V631h-1Z M345 617h5V631h-5Z M353 606h1V618h-1Z M351 607h5V618h-5Z M360 592h1V610h-1Z M358 593h5V609h-5Z M373 586h1V600h-1Z M371 589h5V598h-5Z M400 629h1V646h-1Z M398 643h5V644h-5Z M407 602h1V648h-1Z M405 608h5V644h-5Z M414 575h1V612h-1Z M412 575h5V609h-5Z M420 550h1V576h-1Z M418 553h5V576h-5Z M434 554h1V564h-1Z M432 555h5V564h-5Z M440 516h1V556h-1Z M438 516h5V556h-5Z M454 485h1V521h-1Z M452 487h5V520h-5Z M474 507h1V535h-1Z M472 514h5V535h-5Z M487 512h1V542h-1Z M485 515h5V524h-5Z M514 542h1V558h-1Z M512 552h5V553h-5Z M521 518h1V553h-1Z M519 519h5V553h-5Z M528 483h1V523h-1Z M526 484h5V520h-5Z M548 514h1V540h-1Z M546 522h5V530h-5Z M561 543h1V561h-1Z M559 548h5V554h-5Z M575 552h1V594h-1Z M573 552h5V575h-5Z M588 549h1V565h-1Z M586 556h5V563h-5Z M595 532h1V565h-1Z M593 534h5V556h-5Z M601 522h1V536h-1Z M599 526h5V535h-5Z M615 508h1V535h-1Z M613 510h5V534h-5Z M642 520h1V550h-1Z M640 525h5V536h-5Z M655 502h1V532h-1Z M653 502h5V532h-5Z M668 501h1V515h-1Z M666 505h5V513h-5Z M689 517h1V533h-1Z M687 522h5V528h-5Z M702 509h1V525h-1Z M700 511h5V524h-5Z M709 496h1V517h-1Z M707 501h5V512h-5Z M715 479h1V503h-1Z M713 484h5V502h-5Z M729 494h1V507h-1Z M727 500h5V502h-5Z M742 500h1V514h-1Z M740 505h5V506h-5Z M769 518h1V527h-1Z M767 519h5V523h-5Z M789 528h1V549h-1Z M787 530h5V541h-5Z M796 510h1V531h-1Z M794 517h5V531h-5Z M803 510h1V521h-1Z M801 510h5V518h-5Z M816 515h1V523h-1Z M814 518h5V523h-5Z M823 516h1V532h-1Z M821 518h5V519h-5Z M836 525h1V537h-1Z M834 526h5V531h-5Z M843 520h1V527h-1Z M841 522h5V527h-5Z M850 507h1V523h-1Z M848 511h5V523h-5Z M870 504h1V524h-1Z M868 514h5V523h-5Z M883 509h1V520h-1Z M881 513h5V518h-5Z M890 495h1V515h-1Z M888 496h5V514h-5Z M897 484h1V501h-1Z M895 484h5V497h-5Z M930 519h1V528h-1Z M928 522h5V527h-5Z M944 526h1V540h-1Z M942 534h5V540h-5Z M950 508h1V537h-1Z M948 509h5V535h-5Z M957 501h1V515h-1Z M955 505h5V510h-5Z M964 499h1V513h-1Z M962 502h5V506h-5Z M977 495h1V508h-1Z M975 497h5V507h-5Z M997 510h1V520h-1Z M995 514h5V517h-5Z M1004 506h1V516h-1Z M1002 511h5V515h-5Z M1017 514h1V519h-1Z M1015 518h5V519h-5Z M1037 513h1V527h-1Z M1035 514h5V526h-5Z M1051 503h1V523h-1Z M1049 505h5V518h-5Z M1064 498h1V513h-1Z M1062 498h5V509h-5Z M1071 496h1V505h-1Z M1069 496h5V499h-5Z M1078 487h1V501h-1Z M1076 490h5V498h-5Z M1084 476h1V494h-1Z M1082 479h5V490h-5Z M1091 464h1V482h-1Z M1089 468h5V479h-5Z M1098 446h1V471h-1Z M1096 449h5V469h-5Z M1105 432h1V451h-1Z M1103 439h5V449h-5Z M1118 425h1V446h-1Z M1116 430h5V444h-5Z M1125 408h1V432h-1Z M1123 412h5V432h-5Z M1138 405h1V418h-1Z M1136 411h5V417h-5Z M1151 405h1V414h-1Z M1149 409h5V414h-5Z M1158 395h1V415h-1Z M1156 398h5V411h-5Z M1165 388h1V398h-1Z M1163 393h5V398h-5Z M1185 395h1V413h-1Z M1183 395h5V410h-5Z M1192 372h1V396h-1Z M1190 373h5V396h-5Z M1198 357h1V377h-1Z M1196 367h5V374h-5Z M1212 368h1V382h-1Z M1210 372h5V378h-5Z M1219 360h1V377h-1Z M1217 368h5V373h-5Z M1225 342h1V370h-1Z M1223 342h5V370h-5Z M1232 330h1V357h-1Z M1230 333h5V345h-5Z M1239 320h1V335h-1Z M1237 331h5V334h-5Z M1252 322h1V341h-1Z M1250 323h5V335h-5Z M1259 294h1V324h-1Z M1257 298h5V324h-5Z M1266 288h1V304h-1Z M1264 289h5V298h-5Z M1272 262h1V290h-1Z M1270 269h5V290h-5Z M1286 275h1V302h-1Z M1284 277h5V293h-5Z M1292 242h1V285h-1Z M1290 244h5V284h-5Z M1299 220h1V251h-1Z M1297 233h5V245h-5Z M1306 206h1V234h-1Z M1304 210h5V234h-5Z M1312 167h1V213h-1Z M1310 167h5V210h-5Z M1326 148h1V206h-1Z M1324 158h5V195h-5Z M1346 229h1V260h-1Z M1344 239h5V249h-5Z M1380 274h1V313h-1Z M1378 275h5V309h-5Z M1393 273h1V297h-1Z M1391 280h5V288h-5Z M1406 287h1V307h-1Z M1404 289h5V306h-5Z M1420 274h1V292h-1Z M1418 283h5V291h-5Z M1427 243h1V283h-1Z M1425 244h5V283h-5Z M1433 231h1V248h-1Z M1431 238h5V245h-5Z M1440 209h1V248h-1Z M1438 214h5V239h-5Z M1467 254h1V283h-1Z M1465 259h5V270h-5Z M1473 237h1V264h-1Z M1471 257h5V260h-5Z M1480 245h1V270h-1Z M1478 256h5V257h-5Z M1494 236h1V269h-1Z M1492 237h5V260h-5Z M1507 222h1V238h-1Z M1505 225h5V238h-5Z M1520 205h1V230h-1Z M1518 206h5V228h-5Z M1527 190h1V211h-1Z M1525 200h5V206h-5Z M1547 206h1V222h-1Z M1545 209h5V212h-5Z M1567 205h1V223h-1Z M1565 208h5V217h-5Z M1574 199h1V219h-1Z M1572 203h5V210h-5Z M1581 182h1V211h-1Z M1579 186h5V203h-5Z M1588 158h1V192h-1Z M1586 178h5V186h-5Z M1594 160h1V183h-1Z M1592 176h5V178h-5Z M1601 165h1V187h-1Z M1599 176h5V177h-5Z M1608 160h1V177h-1Z M1606 163h5V177h-5Z M1621 157h1V174h-1Z M1619 163h5V166h-5Z M1628 127h1V164h-1Z M1626 128h5V164h-5Z M1634 107h1V131h-1Z M1632 108h5V129h-5Z M1648 89h1V116h-1Z M1646 96h5V109h-5Z M1661 141h1V169h-1Z M1659 163h5V166h-5Z M1675 171h1V175h-1Z M1673 171h5V174h-5Z M1681 141h1V174h-1Z M1679 166h5V169h-5Z M1688 122h1V161h-1Z M1686 126h5V158h-5Z M1695 108h1V132h-1Z M1693 109h5V127h-5Z" fill="#089981" shape-rendering="crispEdges"/>
<path d="M18 737h1V744h-1Z M16 737h5V744h-5Z M45 722h1V730h-1Z M43 723h5V725h-5Z M58 717h1V732h-1Z M56 718h5V729h-5Z M71 720h1V727h-1Z M69 720h5V725h-5Z M112 682h1V696h-1Z M110 686h5V689h-5Z M132 657h1V679h-1Z M130 670h5V674h-5Z M152 658h1V680h-1Z M150 662h5V678h-5Z M186 655h1V666h-1Z M184 659h5V661h-5Z M199 653h1V676h-1Z M197 654h5V669h-5Z M212 665h1V684h-1Z M210 667h5V682h-5Z M219 678h1V696h-1Z M217 681h5V688h-5Z M246 663h1V675h-1Z M244 664h5V670h-5Z M259 667h1V679h-1Z M257 669h5V677h-5Z M286 635h1V645h-1Z M284 641h5V643h-5Z M313 617h1V628h-1Z M311 620h5V621h-5Z M320 620h1V637h-1Z M318 621h5V630h-5Z M326 625h1V636h-1Z M324 629h5V634h-5Z M340 626h1V633h-1Z M338 630h5V631h-5Z M367 584h1V601h-1Z M365 593h5V598h-5Z M380 578h1V618h-1Z M378 589h5V597h-5Z M387 589h1V631h-1Z M385 596h5V625h-5Z M393 617h1V652h-1Z M391 624h5V644h-5Z M427 550h1V568h-1Z M425 555h5V563h-5Z M447 510h1V537h-1Z M445 516h5V522h-5Z M461 460h1V507h-1Z M459 487h5V503h-5Z M467 500h1V545h-1Z M465 503h5V535h-5Z M481 506h1V543h-1Z M479 514h5V524h-5Z M494 514h1V531h-1Z M492 515h5V525h-5Z M501 521h1V543h-1Z M499 525h5V535h-5Z M507 534h1V566h-1Z M505 535h5V553h-5Z M534 482h1V510h-1Z M532 484h5V508h-5Z M541 490h1V535h-1Z M539 508h5V530h-5Z M554 522h1V563h-1Z M552 522h5V554h-5Z M568 546h1V578h-1Z M566 548h5V575h-5Z M581 548h1V582h-1Z M579 552h5V566h-5Z M608 515h1V538h-1Z M606 526h5V534h-5Z M622 511h1V523h-1Z M620 511h5V516h-5Z M628 513h1V536h-1Z M626 516h5V532h-5Z M635 522h1V539h-1Z M633 530h5V536h-5Z M648 523h1V541h-1Z M646 524h5V536h-5Z M662 498h1V519h-1Z M660 502h5V513h-5Z M675 494h1V517h-1Z M673 504h5V513h-5Z M682 504h1V528h-1Z M680 512h5V528h-5Z M695 513h1V530h-1Z M693 522h5V523h-5Z M722 477h1V502h-1Z M720 477h5V502h-5Z M736 496h1V509h-1Z M734 500h5V507h-5Z M749 505h1V517h-1Z M747 506h5V507h-5Z M756 496h1V514h-1Z M754 498h5V508h-5Z M762 506h1V533h-1Z M760 507h5V524h-5Z M776 513h1V527h-1Z M774 519h5V522h-5Z M783 521h1V547h-1Z M781 521h5V541h-5Z M809 508h1V527h-1Z M807 511h5V523h-5Z M829 515h1V535h-1Z M827 517h5V531h-5Z M856 504h1V516h-1Z M854 509h5V516h-5Z M863 507h1V524h-1Z M861 515h5V523h-5Z M876 512h1V527h-1Z M874 514h5V518h-5Z M903 482h1V502h-1Z M901 484h5V501h-5Z M910 498h1V513h-1Z M908 499h5V508h-5Z M917 505h1V522h-1Z M915 506h5V519h-5Z M923 516h1V530h-1Z M921 524h5V527h-5Z M937 519h1V542h-1Z M935 521h5V541h-5Z M970 501h1V509h-1Z M968 502h5V507h-5Z M984 492h1V504h-1Z M982 494h5V497h-5Z M990 494h1V517h-1Z M988 496h5V517h-5Z M1011 504h1V520h-1Z M1009 510h5V519h-5Z M1024 510h1V523h-1Z M1022 518h5V520h-5Z M1031 515h1V526h-1Z M1029 519h5V526h-5Z M1044 512h1V522h-1Z M1042 514h5V518h-5Z M1058 504h1V510h-1Z M1056 506h5V509h-5Z M1111 437h1V456h-1Z M1109 439h5V444h-5Z M1131 398h1V417h-1Z M1129 412h5V417h-5Z M1145 407h1V420h-1Z M1143 410h5V415h-5Z M1172 387h1V409h-1Z M1170 393h5V406h-5Z M1178 399h1V415h-1Z M1176 404h5V410h-5Z M1205 361h1V383h-1Z M1203 366h5V378h-5Z M1245 320h1V347h-1Z M1243 330h5V335h-5Z M1279 263h1V303h-1Z M1277 269h5V293h-5Z M1319 149h1V217h-1Z M1317 166h5V195h-5Z M1333 151h1V255h-1Z M1331 158h5V240h-5Z M1339 226h1V282h-1Z M1337 239h5V250h-5Z M1353 232h1V268h-1Z M1351 239h5V245h-5Z M1359 245h1V294h-1Z M1357 252h5V291h-5Z M1366 276h1V324h-1Z M1364 289h5V301h-5Z M1373 274h1V316h-1Z M1371 300h5V309h-5Z M1386 267h1V293h-1Z M1384 275h5V283h-5Z M1400 280h1V309h-1Z M1398 280h5V306h-5Z M1413 277h1V296h-1Z M1411 289h5V291h-5Z M1447 197h1V232h-1Z M1445 215h5V226h-5Z M1453 209h1V272h-1Z M1451 225h5V254h-5Z M1460 245h1V281h-1Z M1458 253h5V270h-5Z M1487 248h1V276h-1Z M1485 257h5V261h-5Z M1500 227h1V245h-1Z M1498 237h5V238h-5Z M1514 224h1V233h-1Z M1512 225h5V229h-5Z M1534 198h1V226h-1Z M1532 200h5V210h-5Z M1541 198h1V215h-1Z M1539 209h5V212h-5Z M1554 192h1V215h-1Z M1552 209h5V213h-5Z M1561 206h1V221h-1Z M1559 213h5V217h-5Z M1614 151h1V174h-1Z M1612 163h5V166h-5Z M1641 98h1V124h-1Z M1639 107h5V115h-5Z M1655 89h1V176h-1Z M1653 93h5V166h-5Z M1668 152h1V186h-1Z M1666 163h5V174h-5Z M1702 107h1V134h-1Z M1700 109h5V125h-5Z" fill="#f23645" shape-rendering="crispEdges"/>
<defs><clipPath id="up"><rect x="0" y="882" width="1772" height="136.39999999999998"/></clipPath><clipPath id="dn"><rect x="0" y="1018.4" width="1772" height="46.10000000000002"/></clipPath></defs>
<path d="M0.0 1018.4 L0.0 998.9 L6.8 999.9 L11.8 1001.6 L17.6 1005.3 L70.9 1005.3 L78.4 975.6 L85.1 975.6 L91.9 980.7 L98.6 985.1 L104.7 985.1 L111.5 998.9 L131.8 998.9 L138.5 1003.0 L144.6 1006.7 L158.8 1007.0 L165.5 1009.4 L179.1 1009.7 L185.8 1010.7 L197.6 1011.8 L206.1 1013.8 L219.6 1013.1 L233.1 1013.1 L239.9 1015.1 L246.6 1015.8 L251.7 1018.5 L259.5 1029.7 L306.4 1029.7 L312.5 996.6 L326.0 996.9 L337.8 992.2 L346.3 987.4 L353.0 989.5 L359.8 991.8 L366.6 991.1 L373.3 992.2 L380.1 990.1 L386.8 994.9 L393.6 993.5 L407.1 993.9 L420.6 986.8 L426.7 979.0 L433.4 982.0 L440.2 982.0 L452.7 981.0 L460.1 981.4 L466.9 979.3 L535.5 979.3 L540.5 985.1 L554.1 985.4 L560.8 983.4 L567.6 983.4 L574.3 988.8 L587.8 987.8 L595.3 994.9 L601.4 994.9 L606.8 996.2 L614.2 998.9 L620.9 996.2 L627.7 995.2 L633.8 993.5 L640.5 992.5 L647.3 994.2 L654.1 998.2 L661.5 1002.6 L668.2 1003.3 L675.0 1004.7 L681.8 1004.0 L688.5 1006.4 L735.8 1006.4 L741.9 1000.9 L749.3 1000.9 L756.1 1006.7 L762.2 1008.0 L769.6 1005.3 L776.4 1004.3 L782.4 1003.0 L789.2 1004.0 L795.9 1004.7 L809.5 1005.3 L816.2 1004.3 L843.2 1004.3 L850.0 1002.0 L856.8 999.3 L863.5 997.6 L870.3 995.2 L877.0 993.9 L883.1 990.5 L889.9 992.5 L936.1 992.5 L943.6 978.6 L950.3 978.6 L957.1 989.5 L963.9 991.8 L969.9 992.2 L977.4 997.6 L984.1 997.2 L990.9 998.6 L997.6 998.9 L1004.4 999.9 L1011.1 1000.3 L1017.9 1005.7 L1024.7 1006.4 L1038.2 1006.7 L1044.9 1007.0 L1051.7 1008.7 L1058.4 1009.7 L1072.0 1010.1 L1078.0 1011.8 L1084.8 1015.8 L1091.6 1017.5 L1103.4 1017.5 L1110.1 1022.2 L1116.9 1024.9 L1123.6 1025.6 L1171.6 1025.6 L1177.9 1048.9 L1185.3 1048.9 L1191.4 1043.9 L1198.2 1028.6 L1204.9 1015.1 L1211.4 1007.7 L1218.1 993.2 L1224.9 981.4 L1231.6 962.1 L1238.4 955.7 L1244.5 941.5 L1251.9 936.1 L1258.6 929.0 L1265.4 923.6 L1272.2 921.2 L1278.2 921.2 L1285.0 915.1 L1291.8 910.7 L1298.5 910.4 L1305.3 907.0 L1312.0 906.0 L1318.8 902.6 L1325.5 900.9 L1372.8 900.9 L1379.6 1009.7 L1386.4 1009.7 L1392.4 998.2 L1399.2 999.6 L1412.7 998.9 L1419.5 994.9 L1426.2 994.2 L1433.0 992.8 L1439.7 992.8 L1446.5 985.1 L1453.2 979.7 L1460.0 972.9 L1466.8 976.3 L1473.5 977.6 L1480.3 977.6 L1487.0 973.6 L1493.8 970.9 L1500.5 977.0 L1574.5 977.0 L1580.6 1025.3 L1587.4 1025.3 L1594.1 1015.8 L1600.9 1013.1 L1607.6 1012.4 L1614.4 1010.7 L1621.1 1010.4 L1627.9 1005.7 L1682.0 1005.7 L1688.7 1003.3 L1695.5 1000.6 L1702.2 997.6 L1702.2 1018.4Z" fill="#2e8b57" clip-path="url(#up)"/>
<path d="M0.0 1018.4 L0.0 998.9 L6.8 999.9 L11.8 1001.6 L17.6 1005.3 L70.9 1005.3 L78.4 975.6 L85.1 975.6 L91.9 980.7 L98.6 985.1 L104.7 985.1 L111.5 998.9 L131.8 998.9 L138.5 1003.0 L144.6 1006.7 L158.8 1007.0 L165.5 1009.4 L179.1 1009.7 L185.8 1010.7 L197.6 1011.8 L206.1 1013.8 L219.6 1013.1 L233.1 1013.1 L239.9 1015.1 L246.6 1015.8 L251.7 1018.5 L259.5 1029.7 L306.4 1029.7 L312.5 996.6 L326.0 996.9 L337.8 992.2 L346.3 987.4 L353.0 989.5 L359.8 991.8 L366.6 991.1 L373.3 992.2 L380.1 990.1 L386.8 994.9 L393.6 993.5 L407.1 993.9 L420.6 986.8 L426.7 979.0 L433.4 982.0 L440.2 982.0 L452.7 981.0 L460.1 981.4 L466.9 979.3 L535.5 979.3 L540.5 985.1 L554.1 985.4 L560.8 983.4 L567.6 983.4 L574.3 988.8 L587.8 987.8 L595.3 994.9 L601.4 994.9 L606.8 996.2 L614.2 998.9 L620.9 996.2 L627.7 995.2 L633.8 993.5 L640.5 992.5 L647.3 994.2 L654.1 998.2 L661.5 1002.6 L668.2 1003.3 L675.0 1004.7 L681.8 1004.0 L688.5 1006.4 L735.8 1006.4 L741.9 1000.9 L749.3 1000.9 L756.1 1006.7 L762.2 1008.0 L769.6 1005.3 L776.4 1004.3 L782.4 1003.0 L789.2 1004.0 L795.9 1004.7 L809.5 1005.3 L816.2 1004.3 L843.2 1004.3 L850.0 1002.0 L856.8 999.3 L863.5 997.6 L870.3 995.2 L877.0 993.9 L883.1 990.5 L889.9 992.5 L936.1 992.5 L943.6 978.6 L950.3 978.6 L957.1 989.5 L963.9 991.8 L969.9 992.2 L977.4 997.6 L984.1 997.2 L990.9 998.6 L997.6 998.9 L1004.4 999.9 L1011.1 1000.3 L1017.9 1005.7 L1024.7 1006.4 L1038.2 1006.7 L1044.9 1007.0 L1051.7 1008.7 L1058.4 1009.7 L1072.0 1010.1 L1078.0 1011.8 L1084.8 1015.8 L1091.6 1017.5 L1103.4 1017.5 L1110.1 1022.2 L1116.9 1024.9 L1123.6 1025.6 L1171.6 1025.6 L1177.9 1048.9 L1185.3 1048.9 L1191.4 1043.9 L1198.2 1028.6 L1204.9 1015.1 L1211.4 1007.7 L1218.1 993.2 L1224.9 981.4 L1231.6 962.1 L1238.4 955.7 L1244.5 941.5 L1251.9 936.1 L1258.6 929.0 L1265.4 923.6 L1272.2 921.2 L1278.2 921.2 L1285.0 915.1 L1291.8 910.7 L1298.5 910.4 L1305.3 907.0 L1312.0 906.0 L1318.8 902.6 L1325.5 900.9 L1372.8 900.9 L1379.6 1009.7 L1386.4 1009.7 L1392.4 998.2 L1399.2 999.6 L1412.7 998.9 L1419.5 994.9 L1426.2 994.2 L1433.0 992.8 L1439.7 992.8 L1446.5 985.1 L1453.2 979.7 L1460.0 972.9 L1466.8 976.3 L1473.5 977.6 L1480.3 977.6 L1487.0 973.6 L1493.8 970.9 L1500.5 977.0 L1574.5 977.0 L1580.6 1025.3 L1587.4 1025.3 L1594.1 1015.8 L1600.9 1013.1 L1607.6 1012.4 L1614.4 1010.7 L1621.1 1010.4 L1627.9 1005.7 L1682.0 1005.7 L1688.7 1003.3 L1695.5 1000.6 L1702.2 997.6 L1702.2 1018.4Z" fill="#e60000" clip-path="url(#dn)"/>
<path d="M0.0 1018H1702.2" stroke="#c8c8c8" stroke-width="1.1" stroke-dasharray="3.6 2.7"/>
<path d="M0.0 998.9 L6.8 999.9 L11.8 1001.6 L17.6 1005.3 L70.9 1005.3 L78.4 975.6 L85.1 975.6 L91.9 980.7 L98.6 985.1 L104.7 985.1 L111.5 998.9 L131.8 998.9 L138.5 1003.0 L144.6 1006.7 L158.8 1007.0 L165.5 1009.4 L179.1 1009.7 L185.8 1010.7 L197.6 1011.8 L206.1 1013.8 L219.6 1013.1 L233.1 1013.1 L239.9 1015.1 L246.6 1015.8 L251.7 1018.5 L259.5 1029.7 L306.4 1029.7 L312.5 996.6 L326.0 996.9 L337.8 992.2 L346.3 987.4 L353.0 989.5 L359.8 991.8 L366.6 991.1 L373.3 992.2 L380.1 990.1 L386.8 994.9 L393.6 993.5 L407.1 993.9 L420.6 986.8 L426.7 979.0 L433.4 982.0 L440.2 982.0 L452.7 981.0 L460.1 981.4 L466.9 979.3 L535.5 979.3 L540.5 985.1 L554.1 985.4 L560.8 983.4 L567.6 983.4 L574.3 988.8 L587.8 987.8 L595.3 994.9 L601.4 994.9 L606.8 996.2 L614.2 998.9 L620.9 996.2 L627.7 995.2 L633.8 993.5 L640.5 992.5 L647.3 994.2 L654.1 998.2 L661.5 1002.6 L668.2 1003.3 L675.0 1004.7 L681.8 1004.0 L688.5 1006.4 L735.8 1006.4 L741.9 1000.9 L749.3 1000.9 L756.1 1006.7 L762.2 1008.0 L769.6 1005.3 L776.4 1004.3 L782.4 1003.0 L789.2 1004.0 L795.9 1004.7 L809.5 1005.3 L816.2 1004.3 L843.2 1004.3 L850.0 1002.0 L856.8 999.3 L863.5 997.6 L870.3 995.2 L877.0 993.9 L883.1 990.5 L889.9 992.5 L936.1 992.5 L943.6 978.6 L950.3 978.6 L957.1 989.5 L963.9 991.8 L969.9 992.2 L977.4 997.6 L984.1 997.2 L990.9 998.6 L997.6 998.9 L1004.4 999.9 L1011.1 1000.3 L1017.9 1005.7 L1024.7 1006.4 L1038.2 1006.7 L1044.9 1007.0 L1051.7 1008.7 L1058.4 1009.7 L1072.0 1010.1 L1078.0 1011.8 L1084.8 1015.8 L1091.6 1017.5 L1103.4 1017.5 L1110.1 1022.2 L1116.9 1024.9 L1123.6 1025.6 L1171.6 1025.6 L1177.9 1048.9 L1185.3 1048.9 L1191.4 1043.9 L1198.2 1028.6 L1204.9 1015.1 L1211.4 1007.7 L1218.1 993.2 L1224.9 981.4 L1231.6 962.1 L1238.4 955.7 L1244.5 941.5 L1251.9 936.1 L1258.6 929.0 L1265.4 923.6 L1272.2 921.2 L1278.2 921.2 L1285.0 915.1 L1291.8 910.7 L1298.5 910.4 L1305.3 907.0 L1312.0 906.0 L1318.8 902.6 L1325.5 900.9 L1372.8 900.9 L1379.6 1009.7 L1386.4 1009.7 L1392.4 998.2 L1399.2 999.6 L1412.7 998.9 L1419.5 994.9 L1426.2 994.2 L1433.0 992.8 L1439.7 992.8 L1446.5 985.1 L1453.2 979.7 L1460.0 972.9 L1466.8 976.3 L1473.5 977.6 L1480.3 977.6 L1487.0 973.6 L1493.8 970.9 L1500.5 977.0 L1574.5 977.0 L1580.6 1025.3 L1587.4 1025.3 L1594.1 1015.8 L1600.9 1013.1 L1607.6 1012.4 L1614.4 1010.7 L1621.1 1010.4 L1627.9 1005.7 L1682.0 1005.7 L1688.7 1003.3 L1695.5 1000.6 L1702.2 997.6" stroke="#2a2e39" stroke-width="1.3" fill="none" stroke-linejoin="round"/>
<text x="1780" y="853.9" fill="#131722" textLength="45.8" lengthAdjust="spacingAndGlyphs" stroke="#131722" stroke-width="0.15">2400.00</text>
<text x="1780" y="818.9" fill="#131722" textLength="45.8" lengthAdjust="spacingAndGlyphs" stroke="#131722" stroke-width="0.15">2500.00</text>
<text x="1780" y="782.9" fill="#131722" textLength="45.8" lengthAdjust="spacingAndGlyphs" stroke="#131722" stroke-width="0.15">2600.00</text>
<text x="1780" y="747.9" fill="#131722" textLength="45.8" lengthAdjust="spacingAndGlyphs" stroke="#131722" stroke-width="0.15">2700.00</text>
<text x="1780" y="712.9" fill="#131722" textLength="45.8" lengthAdjust="spacingAndGlyphs" stroke="#131722" stroke-width="0.15">2800.00</text>
<text x="1780" y="676.9" fill="#131722" textLength="45.8" lengthAdjust="spacingAndGlyphs" stroke="#131722" stroke-width="0.15">2900.00</text>
<text x="1780" y="641.9" fill="#131722" textLength="45.8" lengthAdjust="spacingAndGlyphs" stroke="#131722" stroke-width="0.15">3000.00</text>
<text x="1780" y="606.9" fill="#131722" textLength="45.8" lengthAdjust="spacingAndGlyphs" stroke="#131722" stroke-width="0.15">3100.00</text>
<text x="1780" y="570.9" fill="#131722" textLength="45.8" lengthAdjust="spacingAndGlyphs" stroke="#131722" stroke-width="0.15">3200.00</text>
<text x="1780" y="535.9" fill="#131722" textLength="45.8" lengthAdjust="spacingAndGlyphs" stroke="#131722" stroke-width="0.15">3300.00</text>
<text x="1780" y="500.9" fill="#131722" textLength="45.8" lengthAdjust="spacingAndGlyphs" stroke="#131722" stroke-width="0.15">3400.00</text>
<text x="1780" y="464.9" fill="#131722" textLength="45.8" lengthAdjust="spacingAndGlyphs" stroke="#131722" stroke-width="0.15">3500.00</text>
<text x="1780" y="429.9" fill="#131722" textLength="45.8" lengthAdjust="spacingAndGlyphs" stroke="#131722" stroke-width="0.15">3600.00</text>
<text x="1780" y="394.9" fill="#131722" textLength="45.8" lengthAdjust="spacingAndGlyphs" stroke="#131722" stroke-width="0.15">3700.00</text>
<text x="1780" y="358.9" fill="#131722" textLength="45.8" lengthAdjust="spacingAndGlyphs" stroke="#131722" stroke-width="0.15">3800.00</text>
<text x="1780" y="323.9" fill="#131722" textLength="45.8" lengthAdjust="spacingAndGlyphs" stroke="#131722" stroke-width="0.15">3900.00</text>
<text x="1780" y="287.9" fill="#131722" textLength="45.8" lengthAdjust="spacingAndGlyphs" stroke="#131722" stroke-width="0.15">4000.00</text>
<text x="1780" y="252.9" fill="#131722" textLength="45.8" lengthAdjust="spacingAndGlyphs" stroke="#131722" stroke-width="0.15">4100.00</text>
<text x="1780" y="217.9" fill="#131722" textLength="45.8" lengthAdjust="spacingAndGlyphs" stroke="#131722" stroke-width="0.15">4200.00</text>
<text x="1780" y="181.9" fill="#131722" textLength="45.8" lengthAdjust="spacingAndGlyphs" stroke="#131722" stroke-width="0.15">4300.00</text>
<text x="1780" y="146.9" fill="#131722" textLength="45.8" lengthAdjust="spacingAndGlyphs" stroke="#131722" stroke-width="0.15">4400.00</text>
<text x="1780" y="111.9" fill="#131722" textLength="45.8" lengthAdjust="spacingAndGlyphs" stroke="#131722" stroke-width="0.15">4500.00</text>
<text x="1780" y="75.9" fill="#131722" textLength="45.8" lengthAdjust="spacingAndGlyphs" stroke="#131722" stroke-width="0.15">4600.00</text>
<text x="1780" y="40.9" fill="#131722" textLength="45.8" lengthAdjust="spacingAndGlyphs" stroke="#131722" stroke-width="0.15">4700.00</text>
<text x="1780" y="1058.3" fill="#131722" textLength="32" lengthAdjust="spacingAndGlyphs" stroke="#131722" stroke-width="0.15">80.00</text>
<text x="1780" y="1022.3" fill="#131722" textLength="38.5" lengthAdjust="spacingAndGlyphs" stroke="#131722" stroke-width="0.15">100.00</text>
<text x="1780" y="985.3" fill="#131722" textLength="38.5" lengthAdjust="spacingAndGlyphs" stroke="#131722" stroke-width="0.15">120.00</text>
<text x="1780" y="949.3" fill="#131722" textLength="38.5" lengthAdjust="spacingAndGlyphs" stroke="#131722" stroke-width="0.15">140.00</text>
<text x="1780" y="913.3" fill="#131722" textLength="38.5" lengthAdjust="spacingAndGlyphs" stroke="#131722" stroke-width="0.15">160.00</text>
<path d="M1772 140h57.5a2.5 2.5 0 0 1 2.5 2.5v14a2.5 2.5 0 0 1 -2.5 2.5h-57.5z" fill="#000"/>
<text x="1781" y="153.9" fill="#fff" textLength="45" lengthAdjust="spacingAndGlyphs" stroke="#fff" stroke-width="0.45">4381.67</text>
<path d="M1772 115h57.5a2.5 2.5 0 0 1 2.5 2.5v14a2.5 2.5 0 0 1 -2.5 2.5h-57.5z" fill="#f23645"/>
<text x="1781" y="128.9" fill="#fff" textLength="45" lengthAdjust="spacingAndGlyphs" stroke="#fff" stroke-width="0.45">4452.56</text>
<path d="M1772 80h57.5a2.5 2.5 0 0 1 2.5 2.5v14a2.5 2.5 0 0 1 -2.5 2.5h-57.5z" fill="#000"/>
<text x="1781" y="93.9" fill="#fff" textLength="45" lengthAdjust="spacingAndGlyphs" stroke="#fff" stroke-width="0.45">4549.89</text>
<path d="M1772 200h57.5a2.5 2.5 0 0 1 2.5 2.5v14a2.5 2.5 0 0 1 -2.5 2.5h-57.5z" fill="#ff6d00"/>
<text x="1781" y="213.9" fill="#fff" textLength="45" lengthAdjust="spacingAndGlyphs" stroke="#fff" stroke-width="0.45">4211.67</text>
<path d="M1772 275h57.5a2.5 2.5 0 0 1 2.5 2.5v14a2.5 2.5 0 0 1 -2.5 2.5h-57.5z" fill="#2196f3"/>
<text x="1781" y="288.9" fill="#fff" textLength="45" lengthAdjust="spacingAndGlyphs" stroke="#fff" stroke-width="0.45">3997.27</text>
<path d="M1772 315h57.5a2.5 2.5 0 0 1 2.5 2.5v14a2.5 2.5 0 0 1 -2.5 2.5h-57.5z" fill="#000"/>
<text x="1781" y="328.9" fill="#fff" textLength="45" lengthAdjust="spacingAndGlyphs" stroke="#fff" stroke-width="0.45">3886.62</text>
<path d="M1772 397h57.5a2.5 2.5 0 0 1 2.5 2.5v14a2.5 2.5 0 0 1 -2.5 2.5h-57.5z" fill="#26c6da"/>
<text x="1781" y="410.9" fill="#131722" textLength="45" lengthAdjust="spacingAndGlyphs" stroke="#131722" stroke-width="0.15">3653.33</text>
<path d="M1772 451h57.5a2.5 2.5 0 0 1 2.5 2.5v14a2.5 2.5 0 0 1 -2.5 2.5h-57.5z" fill="#000"/>
<text x="1781" y="464.9" fill="#fff" textLength="45" lengthAdjust="spacingAndGlyphs" stroke="#fff" stroke-width="0.45">3500.14</text>
<path d="M1772 1009h49.5a2.5 2.5 0 0 1 2.5 2.5v14a2.5 2.5 0 0 1 -2.5 2.5h-49.5z" fill="#a6a6a6"/>
<text x="1781" y="1022.9" fill="#131722" textLength="38.5" lengthAdjust="spacingAndGlyphs" stroke="#131722" stroke-width="0.15">100.00</text>
<path d="M1772 989h49.5a2.5 2.5 0 0 1 2.5 2.5v14a2.5 2.5 0 0 1 -2.5 2.5h-49.5z" fill="#000"/>
<text x="1781" y="1002.9" fill="#fff" textLength="38.5" lengthAdjust="spacingAndGlyphs" stroke="#fff" stroke-width="0.45">110.82</text>
<text x="92.5" y="1084" fill="#131722" text-anchor="middle" stroke="#131722" stroke-width="0.15">Feb</text>
<text x="226.5" y="1084" fill="#131722" text-anchor="middle" stroke="#131722" stroke-width="0.15">Mar</text>
<text x="367.5" y="1084" fill="#131722" text-anchor="middle" stroke="#131722" stroke-width="0.15">Apr</text>
<text x="507.5" y="1084" fill="#131722" text-anchor="middle" stroke="#131722" stroke-width="0.15">May</text>
<text x="655.5" y="1084" fill="#131722" text-anchor="middle" stroke="#131722" stroke-width="0.15">Jun</text>
<text x="796.5" y="1084" fill="#131722" text-anchor="middle" stroke="#131722" stroke-width="0.15">Jul</text>
<text x="950.5" y="1084" fill="#131722" text-anchor="middle" stroke="#131722" stroke-width="0.15">Aug</text>
<text x="1091.5" y="1084" fill="#131722" text-anchor="middle" stroke="#131722" stroke-width="0.15">Sep</text>
<text x="1239.5" y="1084" fill="#131722" text-anchor="middle" stroke="#131722" stroke-width="0.15">Oct</text>
<text x="1393.5" y="1084" fill="#131722" text-anchor="middle" stroke="#131722" stroke-width="0.15">Nov</text>
<text x="1527.5" y="1084" fill="#131722" text-anchor="middle" stroke="#131722" stroke-width="0.15">Dec</text>
<text x="1675.5" y="1084" fill="#131722" text-anchor="middle" textLength="28.5" lengthAdjust="spacingAndGlyphs" font-weight="bold">2026</text>
<text x="1762.5" y="1084" fill="#131722" text-anchor="middle" stroke="#131722" stroke-width="0.15">16</text>
<text x="9.1" y="20.9" fill="#131722" textLength="73.7" lengthAdjust="spacingAndGlyphs" stroke="#131722" stroke-width="0.15">XAU/USD, 1D</text>
<text x="90.5" y="20.9" fill="#131722" textLength="8.5" lengthAdjust="spacingAndGlyphs" stroke="#131722" stroke-width="0.15">O</text>
<text x="99" y="20.9" fill="#f23645" textLength="44.2" lengthAdjust="spacingAndGlyphs" stroke="#f23645" stroke-width="0.15">4493.77</text>
<text x="151" y="20.9" fill="#131722" textLength="8.5" lengthAdjust="spacingAndGlyphs" stroke="#131722" stroke-width="0.15">H</text>
<text x="159.5" y="20.9" fill="#f23645" textLength="43.9" lengthAdjust="spacingAndGlyphs" stroke="#f23645" stroke-width="0.15">4500.56</text>
<text x="211" y="20.9" fill="#131722" textLength="6.5" lengthAdjust="spacingAndGlyphs" stroke="#131722" stroke-width="0.15">L</text>
<text x="218" y="20.9" fill="#f23645" textLength="43.3" lengthAdjust="spacingAndGlyphs" stroke="#f23645" stroke-width="0.15">4423.58</text>
<text x="269.3" y="20.9" fill="#131722" textLength="7.5" lengthAdjust="spacingAndGlyphs" stroke="#131722" stroke-width="0.15">C</text>
<text x="277" y="20.9" fill="#f23645" textLength="44" lengthAdjust="spacingAndGlyphs" stroke="#f23645" stroke-width="0.15">4452.56</text>
<text x="329.4" y="20.9" fill="#f23645" textLength="36.1" lengthAdjust="spacingAndGlyphs" stroke="#f23645" stroke-width="0.15">−41.32</text>
<text x="370.6" y="20.9" fill="#f23645" textLength="47.4" lengthAdjust="spacingAndGlyphs" stroke="#f23645" stroke-width="0.15">(−0.92%)</text>
<text x="9.1" y="39" fill="#131722" textLength="251" lengthAdjust="spacingAndGlyphs" stroke="#131722" stroke-width="0.15">Moving Average Triple (50, 100, 200, Simple)</text>
<text x="268" y="39" fill="#ff6d00" textLength="44.5" lengthAdjust="spacingAndGlyphs" stroke="#ff6d00" stroke-width="0.15">4211.67</text>
<text x="320" y="39" fill="#2196f3" textLength="44" lengthAdjust="spacingAndGlyphs" stroke="#2196f3" stroke-width="0.15">3997.27</text>
<text x="372" y="39" fill="#26c6da" textLength="44" lengthAdjust="spacingAndGlyphs" stroke="#26c6da" stroke-width="0.15">3653.33</text>
<text x="9.1" y="57" fill="#131722" textLength="156" lengthAdjust="spacingAndGlyphs" stroke="#131722" stroke-width="0.15">Pivots (Traditional, Daily, 1)</text>
<text x="9.1" y="903" fill="#131722" textLength="181" lengthAdjust="spacingAndGlyphs" stroke="#131722" stroke-width="0.15">FXS Fed Sentiment Index (close)</text>
<text x="198.6" y="903" fill="#131722" textLength="37" lengthAdjust="spacingAndGlyphs" stroke="#131722" stroke-width="0.15">110.82</text>
<text x="244" y="903" fill="#b2b5be" textLength="36.7" lengthAdjust="spacingAndGlyphs" stroke="#b2b5be" stroke-width="0.15">100.00</text>
<path d="M0 0H1835V1095H0Z M2 2V1093H1833V2Z" fill="#eceff4" fill-rule="evenodd"/>
</svg>
</body></html>
